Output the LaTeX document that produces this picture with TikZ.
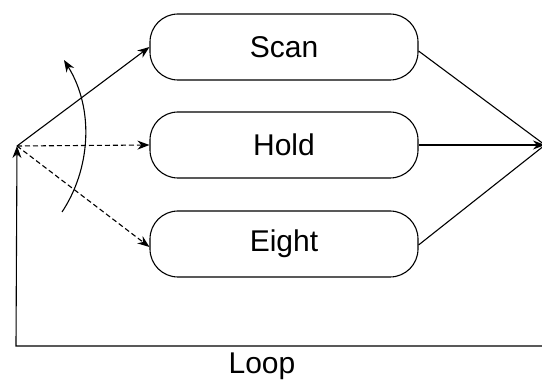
\documentclass[tikz,border=0pt]{standalone}
\usepackage{fontspec}
\setmainfont{Liberation Sans}
\usetikzlibrary{arrows.meta}
\begin{document}
\begin{tikzpicture}[x=1pt,y=-1pt,
  bigtext/.style={font=\fontsize{30}{34}\selectfont},
  state/.style={draw, line width=1.1pt, rounded corners=28pt, minimum width=268pt, minimum height=66pt, bigtext, inner sep=0pt},
  conn/.style={line width=1.1pt},
  tip/.style={-{Stealth[length=12pt,width=9pt]}},
  dashconn/.style={conn, dashed, dash pattern=on 5pt off 3pt}]
\useasboundingbox (0,0) rectangle (542,385);
\node[state] (scan) at (284,47) {Scan};
\node[state] (hold) at (284,145) {Hold};
\node[state] (eight) at (284,244) {Eight};
\coordinate (src) at (17,146);
\coordinate (dst) at (545,145);
\coordinate (lr) at (545,346);
\coordinate (ll) at (16,346);
\coordinate (cs) at (62,212);
\coordinate (ce) at (64,60);
\node[bigtext] (loop) at (262,366) {Loop};
\draw[conn,tip] (src) -- (scan.west);
\draw[dashconn,tip] (src) -- (hold.west);
\draw[dashconn,tip] (src) -- ([yshift=-3pt]eight.west);
\draw[conn] ([yshift=-4pt]scan.east) -- (dst);
\draw[conn,tip] (hold.east) -- (dst);
\draw[conn] ([yshift=-1pt]eight.east) -- (dst);
\draw[conn,tip] (lr) -- (ll) -- (src);
\draw[conn,tip] (cs) .. controls (90,170) and (95,110) .. (ce);
\end{tikzpicture}
\end{document}
